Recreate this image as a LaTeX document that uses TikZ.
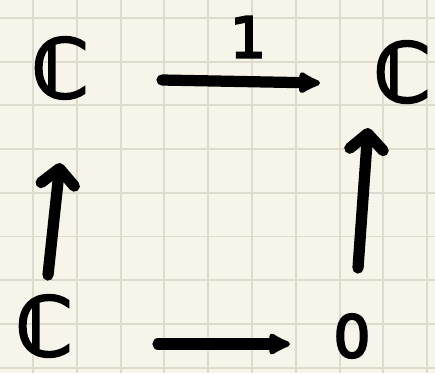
\documentclass[tikz,border=0pt]{standalone}
\usepackage{fontspec}
\usepackage{tikz}
\usepackage{xcolor}
\usetikzlibrary{arrows.meta,calc}
\newfontfamily\markerfont[FakeBold=4]{DejaVu Sans}
\definecolor{paper}{HTML}{F7F5E9}
\definecolor{gridgray}{HTML}{DCDBCD}
\definecolor{ink}{HTML}{000000}
\tikzset{
  gridline/.style={draw=gridgray, line width=1.1pt},
  objnode/.style={inner sep=0pt, text=ink, font=\markerfont\fontsize{46}{48}\selectfont},
  zeronode/.style={inner sep=0pt, text=ink, font=\markerfont\fontsize{33}{35}\selectfont},
  labelnode/.style={inner sep=0pt, text=ink, font=\markerfont\fontsize{32}{34}\selectfont},
  maparrow/.style={-{Latex[length=15pt, width=15pt, round]}, line width=6.4pt, line cap=round, draw=ink},
  uparrow/.style={-{Straight Barb[length=9pt, width=19pt, round]}, line width=6.4pt, line cap=round, draw=ink}
}

\begin{document}
\begin{tikzpicture}[x=0.02cm, y=-0.02cm]
\fill[paper] (0,0) rectangle (435,373);
\useasboundingbox (0,0) rectangle (435,373);
\foreach \i in {0,...,9}
  \draw[gridline] ({33+43.8*\i},0) -- ({33+43.8*\i},373);
\foreach \j in {0,...,8}
  \draw[gridline] (0,{18+43.7*\j}) -- (435,{18+43.7*\j});

\node[objnode] (Ctl) at (60,68) {ℂ};
\node[objnode] (Ctr) at (402,72) {ℂ};
\node[objnode] (Cbl) at (44,326) {ℂ};
\node[zeronode] (zero) at (352,336) {0};
\node[labelnode] (one) at (248,37) {1};

\draw[maparrow] ($(Ctl)+(102,12)$) -- ($(Ctr)+(-82,11)$);
\draw[maparrow] ($(Cbl)+(114,18)$) -- ($(zero)+(-62,8)$);
\draw[uparrow] ($(Cbl)+(4,-51)$) -- ($(Ctl)+(0,95)$);
\draw[uparrow] ($(zero)+(6,-68)$) -- ($(Ctr)+(-34,56)$);
\end{tikzpicture}
\end{document}
